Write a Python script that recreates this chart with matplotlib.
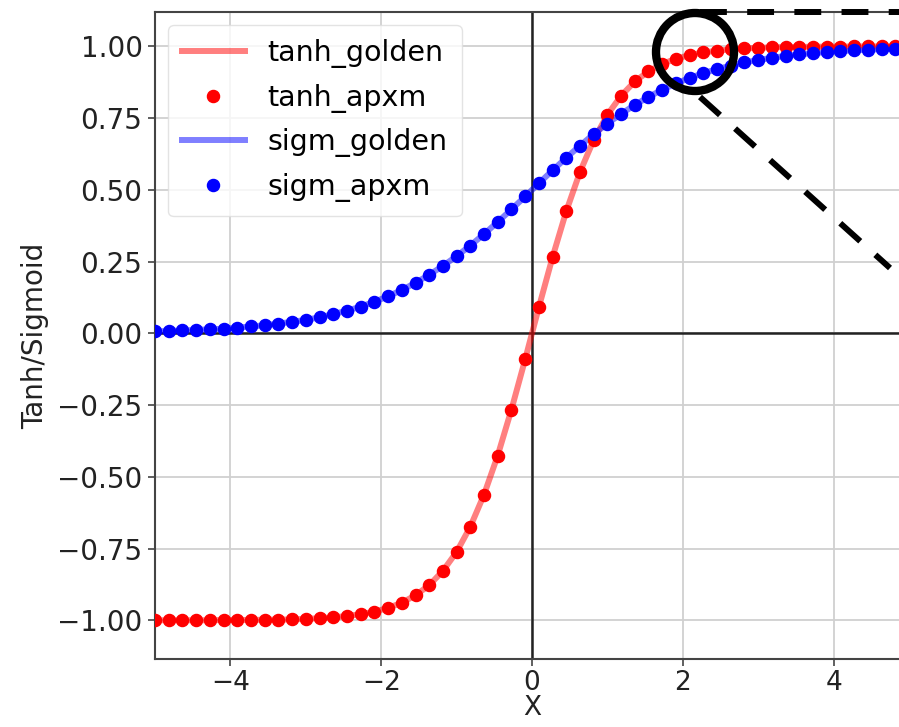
import numpy as np
import matplotlib
matplotlib.use("Agg")
import matplotlib.pyplot as plt
import matplotlib.patches as patches
import matplotlib.lines as mlines

# sample points (56 evenly spaced between -5 and 5)
x = [-5.000, -4.818, -4.636, -4.455, -4.273, -4.091, -3.909, -3.727, -3.545, -3.364,
     -3.182, -3.000, -2.818, -2.636, -2.455, -2.273, -2.091, -1.909, -1.727, -1.545,
     -1.364, -1.182, -1.000, -0.818, -0.636, -0.455, -0.273, -0.091, 0.091, 0.273,
     0.455, 0.636, 0.818, 1.000, 1.182, 1.364, 1.545, 1.727, 1.909, 2.091,
     2.273, 2.455, 2.636, 2.818, 3.000, 3.182, 3.364, 3.545, 3.727, 3.909,
     4.091, 4.273, 4.455, 4.636, 4.818, 5.000]

tanh_vals = [-1.000, -1.000, -1.000, -1.000, -1.000, -0.999, -0.999, -0.999, -0.998, -0.998,
             -0.997, -0.995, -0.993, -0.990, -0.985, -0.979, -0.970, -0.957, -0.939, -0.913,
             -0.878, -0.828, -0.762, -0.674, -0.562, -0.426, -0.266, -0.091, 0.091, 0.266,
             0.426, 0.562, 0.674, 0.762, 0.828, 0.878, 0.913, 0.939, 0.957, 0.970,
             0.979, 0.985, 0.990, 0.993, 0.995, 0.997, 0.998, 0.998, 0.999, 0.999,
             0.999, 1.000, 1.000, 1.000, 1.000, 1.000]

sigm_vals = [0.007, 0.008, 0.010, 0.012, 0.014, 0.016, 0.020, 0.024, 0.028, 0.034,
             0.040, 0.047, 0.056, 0.067, 0.079, 0.093, 0.110, 0.129, 0.151, 0.176,
             0.204, 0.235, 0.269, 0.306, 0.346, 0.388, 0.432, 0.477, 0.523, 0.568,
             0.612, 0.654, 0.694, 0.731, 0.765, 0.796, 0.824, 0.849, 0.871, 0.890,
             0.907, 0.921, 0.933, 0.944, 0.953, 0.960, 0.967, 0.972, 0.977, 0.980,
             0.984, 0.986, 0.989, 0.990, 0.992, 0.993]

W, H = 899, 727
fig = plt.figure(figsize=(W / 100, H / 100), dpi=100)
# the original picture is cropped: the axes run past the right edge
ax = fig.add_axes([155 / W, 68 / H, 754 / W, 647 / H])

ax.grid(True, color='#d0d0d0', linewidth=1.3)
ax.axhline(0, color='#222222', linewidth=1.8)
ax.axvline(0, color='#222222', linewidth=1.8)

ax.plot(x, tanh_vals, color='red', alpha=0.5, linewidth=4.3, label='tanh_golden', zorder=3)
ax.plot(x, tanh_vals, 'o', color='red', markersize=8.7, label='tanh_apxm', zorder=4)
ax.plot(x, sigm_vals, color='blue', alpha=0.5, linewidth=4.3, label='sigm_golden', zorder=3)
ax.plot(x, sigm_vals, 'o', color='blue', markersize=8.7, label='sigm_apxm', zorder=4)

ax.set_xlim(-5, 5)
ax.set_ylim(-1.135, 1.12)
ax.set_xticks([-4, -2, 0, 2, 4])
ax.set_yticks([-1.0, -0.75, -0.5, -0.25, 0.0, 0.25, 0.5, 0.75, 1.0])
ax.tick_params(labelsize=20, length=5, width=1.2, colors='#444444', labelcolor='#222222',
               pad=4)
ax.tick_params(axis='x', labelsize=19, pad=3)
for s in ax.spines.values():
    s.set_color('#444444')
    s.set_linewidth(1.5)

ax.set_xlabel('X', fontsize=19, color='#222222', labelpad=-1)
ax.set_ylabel('Tanh/Sigmoid', fontsize=20, color='#222222', labelpad=6)

leg = ax.legend(loc='upper left', fontsize=20.5, framealpha=0.8, borderpad=0.5,
                handlelength=2.2, labelspacing=0.55, handletextpad=0.8,
                borderaxespad=0.45)
leg.get_frame().set_edgecolor('#dddddd')

# zoom marker drawn on top of the figure (pixel positions in inches)
tr = fig.dpi_scale_trans
circ = patches.Circle((695 / 100, (H - 52) / 100), 0.39, facecolor='none',
                      edgecolor='black', linewidth=6, transform=tr, zorder=10)
fig.add_artist(circ)
dash = (0, (4.5, 3.4))
fig.add_artist(mlines.Line2D([700 / 100, 920 / 100], [(H - 12) / 100] * 2, transform=tr,
                             color='black', linewidth=4.3, linestyle=dash, zorder=10))
fig.add_artist(mlines.Line2D([700 / 100, 890 / 100], [(H - 97) / 100, (H - 268) / 100],
                             transform=tr, color='black', linewidth=4.3, linestyle=dash,
                             zorder=10))

fig.savefig('out.png', dpi=100)
